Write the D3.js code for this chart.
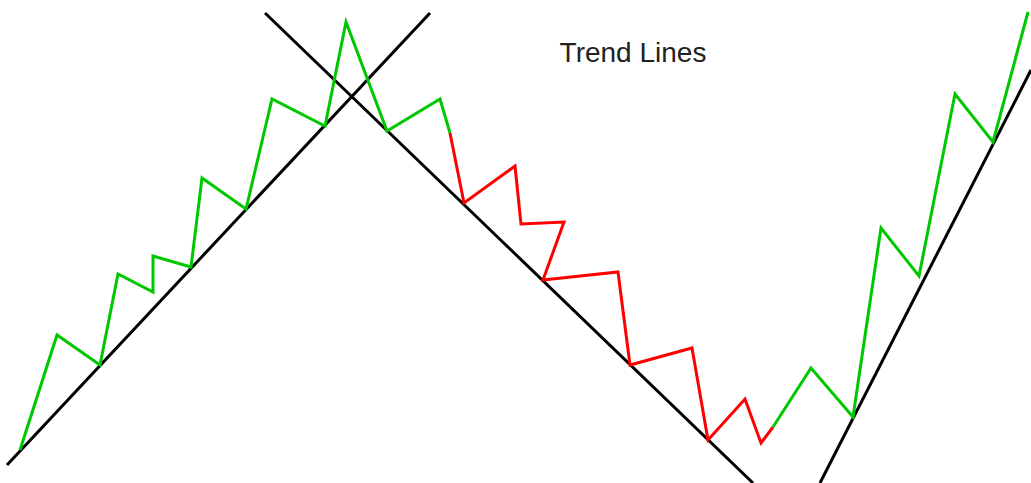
<!DOCTYPE html>
<html>
<head>
<meta charset="utf-8">
<script src="https://cdn.jsdelivr.net/npm/d3@7"></script>
<style>
  body { margin: 0; background: #fff; }
  svg { display: block; }
</style>
</head>
<body>
<div id="chart"></div>
<script>
// bar position (time) and price of each swing point
var upX1 = [20, 57, 100, 118, 153, 153, 191, 202, 246, 272, 325, 346, 387, 440, 450];
var upY1 = [33, 148, 118, 209, 191, 227, 216, 305, 274, 384, 357, 461, 352, 384, 350];

var downX = [450, 464, 515, 521, 564, 543, 618, 630, 692, 708, 745, 761, 773];
var downY = [350, 280, 317, 259, 261, 203, 211, 118, 135, 43, 84, 40, 56];

var upX2 = [773, 811, 853, 881, 919, 955, 993, 1028];
var upY2 = [56, 115, 66, 255, 207, 389, 341, 471];

// trend lines, each as two anchor points [x1, price1, x2, price2]
var trendUp1 = [7, 18, 430, 470];
var trendDown = [265, 470, 753, 0];
var trendUp2 = [820, 0, 1031, 413];

var title = "Trend Lines";

var width = 1031,
  height = 483;

var x = d3.scaleLinear().domain([0, 1031]).range([0, width]);
var y = d3.scaleLinear().domain([0, 483]).range([height, 0]);

var svg = d3.select("#chart")
  .append("svg")
  .attr("width", width)
  .attr("height", height);

var line = d3.line()
  .x(function(d) { return x(d[0]); })
  .y(function(d) { return y(d[1]); });

function pairs(xs, ys) {
  return xs.map(function(v, i) { return [v, ys[i]]; });
}

// black trend lines
[trendUp1, trendDown, trendUp2].forEach(function(t) {
  svg.append("line")
    .attr("x1", x(t[0]))
    .attr("y1", y(t[1]))
    .attr("x2", x(t[2]))
    .attr("y2", y(t[3]))
    .attr("stroke", "#000")
    .attr("stroke-width", 3);
});

// price swings
var series = [
  { pts: pairs(upX1, upY1), color: "#00c800" },
  { pts: pairs(downX, downY), color: "#ff0000" },
  { pts: pairs(upX2, upY2), color: "#00c800" }
];

svg.selectAll("path.swing")
  .data(series)
  .enter()
  .append("path")
  .attr("class", "swing")
  .attr("d", function(d) { return line(d.pts); })
  .attr("fill", "none")
  .attr("stroke", function(d) { return d.color; })
  .attr("stroke-width", 3)
  .attr("stroke-linejoin", "miter");

svg.append("text")
  .attr("x", 633)
  .attr("y", 62)
  .attr("text-anchor", "middle")
  .attr("font-family", "Liberation Sans, Arial, sans-serif")
  .attr("font-size", "28px")
  .attr("fill", "#222")
  .text(title);
</script>
</body>
</html>
